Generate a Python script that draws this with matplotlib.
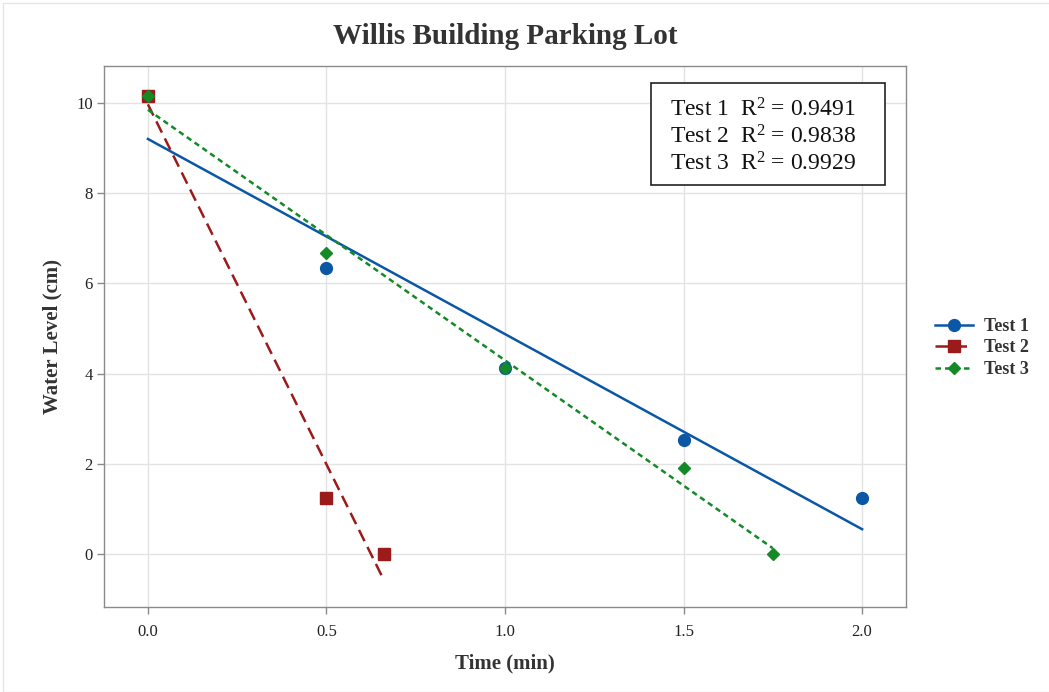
import numpy as np
import matplotlib
matplotlib.use("Agg")
import matplotlib.pyplot as plt
from matplotlib.patches import Rectangle

# Drainage test data: time since start (min) vs. water level (cm)
test1_time = [0.0, 0.5, 1.0, 1.5, 2.0]
test1_level = [10.15, 6.34, 4.12, 2.53, 1.24]

test2_time = [0.0, 0.5, 0.66]
test2_level = [10.15, 1.24, 0.0]

test3_time = [0.0, 0.5, 1.0, 1.5, 1.75]
test3_level = [10.15, 6.67, 4.13, 1.91, 0.0]

series_names = ["Test 1", "Test 2", "Test 3"]
r_squared = ["0.9491", "0.9838", "0.9929"]

x_ticks = [0.0, 0.5, 1.0, 1.5, 2.0]
y_ticks = [0, 2, 4, 6, 8, 10]

SERIF = ["Liberation Serif", "DejaVu Serif"]
plt.rcParams["font.family"] = SERIF
plt.rcParams["mathtext.fontset"] = "custom"
plt.rcParams["mathtext.rm"] = "Liberation Serif"
plt.rcParams["mathtext.it"] = "Liberation Serif:italic"
plt.rcParams["mathtext.bf"] = "Liberation Serif:bold"

fig = plt.figure(figsize=(10.49, 6.92), dpi=100)
ax = fig.add_axes([104 / 1049, 1 - 607 / 692, 802 / 1049, 541 / 692])

styles = [
    dict(color="#0b57a6", ls="-", marker="o", ms=8.5),
    dict(color="#9b1a1a", ls=(0, (5, 2.6)), marker="s", ms=8),
    dict(color="#148a27", ls=(0, (2.2, 1.6)), marker="D", ms=6.5),
]
data = [(test1_time, test1_level), (test2_time, test2_level), (test3_time, test3_level)]

handles = []
for (t, lvl), st, name in zip(data, styles, series_names):
    t = np.asarray(t)
    lvl = np.asarray(lvl)
    slope, icpt = np.polyfit(t, lvl, 1)
    xf = np.array([t.min(), t.max()])
    ax.plot(xf, icpt + slope * xf, color=st["color"], ls=st["ls"], lw=1.8, zorder=3)
    ax.plot(t, lvl, ls="none", marker=st["marker"], ms=st["ms"], color=st["color"],
            mec=st["color"], zorder=4)
    h, = ax.plot([], [], color=st["color"], ls=st["ls"], lw=1.8, marker=st["marker"],
                 ms=st["ms"], label=name)
    handles.append(h)

ax.set_xlim(-0.123, 2.123)
ax.set_ylim(-1.175, 10.82)
ax.set_xticks(x_ticks)
ax.set_xticklabels([f"{v:.1f}" for v in x_ticks])
ax.set_yticks(y_ticks)
ax.grid(True, color="#e3e3e3", lw=1.0, zorder=0)
ax.set_axisbelow(True)
for s in ax.spines.values():
    s.set_color("#8a8a8a")
    s.set_linewidth(1.0)
ax.tick_params(direction="out", length=5, width=1, color="#8a8a8a",
               labelsize=12, labelcolor="#222222")
ax.tick_params(axis="x", pad=7)
ax.tick_params(axis="y", pad=3)

ax.set_xlabel("Time (min)", fontsize=15, fontweight="bold", color="#333333", labelpad=10)
ax.set_ylabel("Water Level (cm)", fontsize=15, fontweight="bold", color="#333333", labelpad=10)

fig.text(505 / 1049, 1 - 37 / 692, "Willis Building Parking Lot", ha="center", va="center",
         fontsize=21, fontweight="bold", color="#333333")

# R-squared summary box
box_l, box_r, box_t, box_b = 651, 885, 83, 185
fig.patches.append(Rectangle((box_l / 1049, 1 - box_b / 692), (box_r - box_l) / 1049,
                             (box_b - box_t) / 692, transform=fig.transFigure,
                             fill=True, facecolor="white", edgecolor="#222222", lw=1.2, zorder=5))
for i, (name, r2) in enumerate(zip(series_names, r_squared)):
    fig.text(670 / 1049, 1 - (110 + 27 * i) / 692, f"{name}  R$^{{2}}$ = {r2}",
             ha="left", va="center", fontsize=17, color="#111111", zorder=6)

leg = fig.legend(handles=handles, loc="center left", bbox_to_anchor=(919 / 1049, 1 - 348 / 692),
                 frameon=False, prop=dict(family=SERIF, weight="bold", size=13),
                 handlelength=2.1, handletextpad=0.6, labelspacing=0.25)
for txt in leg.get_texts():
    txt.set_color("#333333")

# thin frame around the figure
fig.patches.append(Rectangle((3 / 1049, 0), 1.2, 1 - 3 / 692, transform=fig.transFigure,
                             fill=False, edgecolor="#e6e6e6", lw=1.0))

fig.savefig("out.png", dpi=100)
